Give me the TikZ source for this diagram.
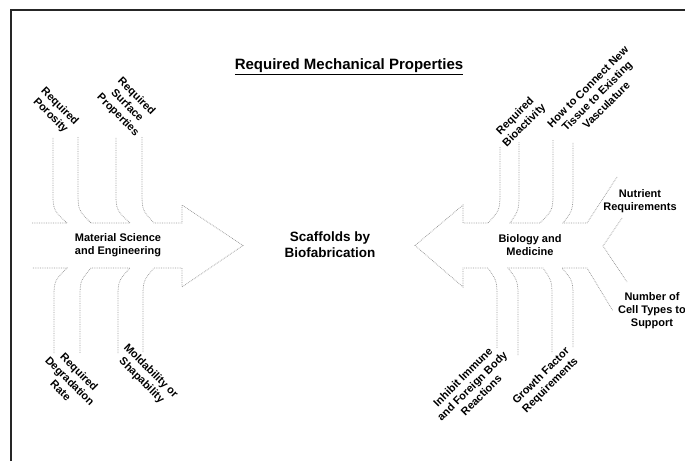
\documentclass[tikz,border=0pt]{standalone}
\usepackage{fontspec}
\setmainfont{Liberation Sans}

\begin{document}
\begin{tikzpicture}[x=1pt,y=-1pt,
    bone/.style={gray!80, densely dotted, line width=0.75pt},
    lbl/.style={font=\fontsize{11}{13}\selectfont\bfseries, align=center, inner sep=0pt}]
    \useasboundingbox (0,0) rectangle (685,461);
    \draw [line width=2pt, black!85] (11,461) -- (11,10) -- (685,10);

    % left arrow
    \draw [bone] (32,223) -- (67,223) .. controls (53,210) .. (53,190) -- (53,137);
    \draw [bone] (78,137) -- (78,190) .. controls (78,210) .. (91,223) -- (130,223) .. controls (116,210) .. (116,190) -- (116,137);
    \draw [bone] (142,137) -- (142,190) .. controls (142,210) .. (154,223) -- (182,223) -- (182,205) -- (243,245.5) -- (182,287) -- (182,268) -- (154,268) .. controls (143,281) .. (143,300) -- (143,353);
    \draw [bone] (118,353) -- (118,300) .. controls (118,281) .. (130,268) -- (91,268) .. controls (80,281) .. (80,300) -- (80,353);
    \draw [bone] (54,353) -- (54,300) .. controls (54,281) .. (67,268) -- (32,268);

    % right arrow
    \draw [bone] (617,177) -- (587,223) -- (563,223) .. controls (573,210) .. (573,190) -- (573,142);
    \draw [bone] (553,140) -- (553,190) .. controls (553,210) .. (540,223) -- (510,223) .. controls (519,210) .. (519,190) -- (519,142);
    \draw [bone] (500,147) -- (500,190) .. controls (500,210) .. (488,223) -- (463,223) -- (463,205) -- (415,245.5) -- (463,287) -- (463,268) -- (488,268) .. controls (497,281) .. (497,300) -- (497,348);
    \draw [bone] (518,355) -- (518,300) .. controls (518,281) .. (508,268) -- (543,268) .. controls (552,281) .. (552,300) -- (552,353);
    \draw [bone] (573,347) -- (573,300) .. controls (573,281) .. (562,268) -- (587,268) -- (613,311);
    \draw [bone] (622,218) -- (603,246) -- (627,282);

    \node (title) at (349,67) {\fontsize{15}{17}\selectfont\bfseries\underline{Required Mechanical Properties}};
    \node [lbl, font=\fontsize{13.5}{16}\selectfont\bfseries] (scaffold) at (330,245) {Scaffolds by\\Biofabrication};
    \node [lbl] (mse) at (118,245) {Material Science\\and Engineering};
    \node [lbl] (biomed) at (530,245) {Biology and\\Medicine};

    \node [lbl, rotate=-45] (porosity) at (55,111) {Required\\Porosity};
    \node [lbl, rotate=-45] (surface) at (127,106) {Required\\Surface\\Properties};
    \node [lbl, rotate=-45] (degradation) at (70,381) {Required\\Degradation\\Rate};
    \node [lbl, rotate=-45] (moldability) at (146,376) {Moldability or\\Shapability};

    \node [lbl, rotate=45] (bioactivity) at (520,121) {Required\\Bioactivity};
    \node [lbl, rotate=45] (vasculature) at (597,96) {How to Connect New\\Tissue to Existing\\Vasculature};
    \node [lbl, rotate=45] (immune) at (472,386) {Inhibit Immune\\and Foreign Body\\Reactions};
    \node [lbl, rotate=45] (growth) at (546,381) {Growth Factor\\Requirements};

    \node [lbl] (nutrient) at (640,201) {Nutrient\\Requirements};
    \node [lbl] (celltypes) at (652,311) {Number of\\Cell Types to\\Support};
\end{tikzpicture}
\end{document}
